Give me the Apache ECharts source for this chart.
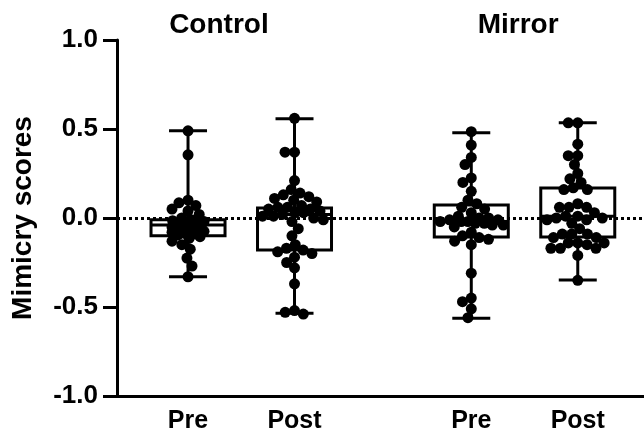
<!DOCTYPE html>
<html><head><meta charset="utf-8">
<script src="https://cdn.jsdelivr.net/npm/echarts@6/dist/echarts.min.js"></script>
<style>html,body{margin:0;padding:0;background:#fff}#c{width:644px;height:441px}</style>
</head><body><div id="c"></div>
<script>
// ---- data ----
const categories = ['Pre', 'Post', 'Pre', 'Post'];
const categoryPos = [1, 2, 3.66, 4.66];
const groups = ['Control', 'Mirror'];
const groupPos = [1.29, 4.1];
const yTicks = [-1.0, -0.5, 0.0, 0.5, 1.0];

const controlPre = [0.49, 0.355, 0.10, 0.085, 0.07, 0.05, 0.04, 0.02, 0.0, -0.01, -0.015, -0.02, -0.025, -0.03, -0.035, -0.04, -0.045, -0.05, -0.055, -0.06, -0.065, -0.07, -0.075, -0.08, -0.085, -0.09, -0.095, -0.105, -0.115, -0.13, -0.15, -0.175, -0.225, -0.27, -0.33];
const controlPost = [0.56, 0.37, 0.37, 0.21, 0.16, 0.14, 0.13, 0.12, 0.11, 0.10, 0.09, 0.07, 0.06, 0.06, 0.05, 0.05, 0.04, 0.03, 0.03, 0.02, 0.01, 0.01, 0.0, -0.01, -0.02, -0.06, -0.10, -0.15, -0.17, -0.18, -0.19, -0.20, -0.22, -0.25, -0.28, -0.37, -0.52, -0.53, -0.54];
const mirrorPre = [0.485, 0.41, 0.34, 0.30, 0.225, 0.20, 0.15, 0.10, 0.08, 0.06, 0.05, 0.03, 0.01, 0.0, 0.0, -0.01, -0.01, -0.02, -0.02, -0.02, -0.03, -0.03, -0.04, -0.04, -0.05, -0.08, -0.10, -0.11, -0.12, -0.13, -0.15, -0.31, -0.45, -0.47, -0.51, -0.56];
const mirrorPost = [0.535, 0.535, 0.415, 0.35, 0.35, 0.30, 0.25, 0.22, 0.20, 0.17, 0.16, 0.16, 0.08, 0.06, 0.06, 0.06, 0.03, 0.01, 0.01, 0.0, 0.0, -0.01, -0.01, -0.03, -0.06, -0.09, -0.09, -0.09, -0.11, -0.11, -0.14, -0.14, -0.14, -0.15, -0.17, -0.17, -0.17, -0.21, -0.35];

// box stats: [min, q1, median, q3, max]
const controlPreBox = [-0.33, -0.10, -0.04, -0.01, 0.49];
const controlPostBox = [-0.535, -0.18, 0.02, 0.056, 0.558];
const mirrorPreBox = [-0.563, -0.107, -0.02, 0.073, 0.479];
const mirrorPostBox = [-0.349, -0.107, 0.01, 0.169, 0.535];

const seriesValues = [controlPre, controlPost, mirrorPre, mirrorPost];
const boxValues = [controlPreBox, controlPostBox, mirrorPreBox, mirrorPostBox];

// ---- style ----
const X_MIN = 0.333, X_MAX = 5.282;
const FONT = '"Liberation Sans", Arial, sans-serif';
const SWARM_HALF_WIDTH = [16, 32, 32, 32]; // px, spread of the dot clouds
const chart = echarts.init(document.getElementById('c'), null, {renderer: 'canvas'});

function nearestIdx(arr, v) {
  let b = 0;
  arr.forEach((a, i) => { if (Math.abs(a - v) < Math.abs(arr[b] - v)) b = i; });
  return b;
}

const boxData = boxValues.map((b, i) => [categoryPos[i]].concat(b));
const lineStyle = {stroke: '#000', lineWidth: 3, fill: null};

function renderBox(params, api) {
  const x = api.value(0);
  const v = [1, 2, 3, 4, 5].map(k => api.value(k));
  const p = v.map(val => api.coord([x, val]));
  const cx = p[0][0];
  const bw = 37, cw = 19;
  return {
    type: 'group',
    children: [
      {type: 'line', shape: {x1: cx, y1: p[4][1], x2: cx, y2: p[3][1]}, style: lineStyle},
      {type: 'line', shape: {x1: cx, y1: p[1][1], x2: cx, y2: p[0][1]}, style: lineStyle},
      {type: 'line', shape: {x1: cx - cw, y1: p[4][1], x2: cx + cw, y2: p[4][1]}, style: lineStyle},
      {type: 'line', shape: {x1: cx - cw, y1: p[0][1], x2: cx + cw, y2: p[0][1]}, style: lineStyle},
      {type: 'rect', shape: {x: cx - bw, y: p[3][1], width: 2 * bw, height: p[1][1] - p[3][1]}, style: lineStyle},
      {type: 'line', shape: {x1: cx - bw, y1: p[2][1], x2: cx + bw, y2: p[2][1]}, style: lineStyle}
    ]
  };
}

function scatterData(offsets) {
  const out = [];
  seriesValues.forEach((vals, g) => {
    vals.forEach((v, i) => out.push([categoryPos[g] + (offsets ? offsets[g][i] : 0), v]));
  });
  return out;
}

const option = {
  animation: false,
  backgroundColor: '#fff',
  grid: {left: 117, right: 0, top: 40, bottom: 45, containLabel: false, outerBoundsMode: 'none'},
  xAxis: [
    {
      type: 'value', min: X_MIN, max: X_MAX,
      axisLine: {show: true, onZero: false, lineStyle: {color: '#000', width: 3}},
      axisTick: {show: false},
      splitLine: {show: false},
      axisLabel: {
        customValues: categoryPos, margin: 13,
        formatter: v => categories[nearestIdx(categoryPos, v)],
        color: '#000', fontSize: 25, fontWeight: 'bold', fontFamily: FONT
      }
    },
    {
      type: 'value', min: X_MIN, max: X_MAX, position: 'top',
      axisLine: {show: false}, axisTick: {show: false}, splitLine: {show: false},
      axisLabel: {
        customValues: groupPos, margin: 1,
        formatter: v => groups[nearestIdx(groupPos, v)],
        color: '#000', fontSize: 28, fontWeight: 'bold', fontFamily: FONT
      }
    }
  ],
  yAxis: {
    type: 'value', min: -1, max: 1, interval: 0.5,
    name: 'Mimicry scores', nameLocation: 'middle', nameGap: 80,
    nameTextStyle: {color: '#000', fontSize: 28, fontWeight: 'bold', fontFamily: FONT},
    axisLine: {show: true, lineStyle: {color: '#000', width: 3}},
    axisTick: {show: true, length: 14, lineStyle: {color: '#000', width: 3}},
    splitLine: {show: false},
    axisLabel: {
      margin: 19, color: '#000', fontSize: 26, fontWeight: 'bold', fontFamily: FONT,
      formatter: v => yTicks[nearestIdx(yTicks, v)].toFixed(1)
    }
  },
  series: [
    {
      type: 'line', data: [], z: 1, silent: true,
      markLine: {
        silent: true, symbol: 'none', label: {show: false},
        lineStyle: {color: '#000', width: 3, type: [3, 3]},
        data: [{yAxis: 0}]
      }
    },
    {type: 'custom', renderItem: renderBox, data: boxData, z: 2, silent: true},
    {type: 'scatter', data: scatterData(null), symbolSize: 11, itemStyle: {color: '#000', opacity: 1}, z: 3}
  ]
};
chart.setOption(option);

// beeswarm offsets computed in pixel space from the chart's own scales,
// clamped to a maximum half-width (overlap allowed when too dense)
function swarm(ys, D, maxW) {
  const idx = ys.map((v, i) => i).sort((a, b) => ys[a] - ys[b]);
  const placed = [];
  const xs = new Array(ys.length);
  for (const i of idx) {
    const y = ys[i];
    const iv = [];
    for (const p of placed) {
      const dy = Math.abs(p.y - y);
      if (dy < D) { const w = Math.sqrt(D * D - dy * dy); iv.push([p.x - w, p.x + w]); }
    }
    const cands = [0];
    iv.forEach(t => cands.push(t[0], t[1]));
    cands.sort((a, b) => Math.abs(a) - Math.abs(b));
    let best = null;
    for (const c of cands) {
      if (Math.abs(c) > maxW) break;
      if (iv.every(t => c <= t[0] + 1e-6 || c >= t[1] - 1e-6)) { best = c; break; }
    }
    if (best === null) {
      let bestScore = -Infinity;
      for (let c = -maxW; c <= maxW; c += 1) {
        let m = Infinity;
        for (const p of placed) m = Math.min(m, Math.hypot(p.x - c, p.y - y));
        const score = m - Math.abs(c) * 0.01;
        if (score > bestScore) { bestScore = score; best = c; }
      }
    }
    xs[i] = best;
    placed.push({x: best, y});
  }
  return xs;
}
const p0 = chart.convertToPixel({gridIndex: 0}, [0, 0]);
const p1 = chart.convertToPixel({gridIndex: 0}, [1, 1]);
const pxPerX = p1[0] - p0[0];
const pxPerY = p0[1] - p1[1];
const offsets = seriesValues.map((vals, g) => swarm(vals.map(v => -v * pxPerY), 9.5, SWARM_HALF_WIDTH[g]).map(o => o / pxPerX));
chart.setOption({series: [{}, {}, {data: scatterData(offsets)}]});
</script></body></html>
